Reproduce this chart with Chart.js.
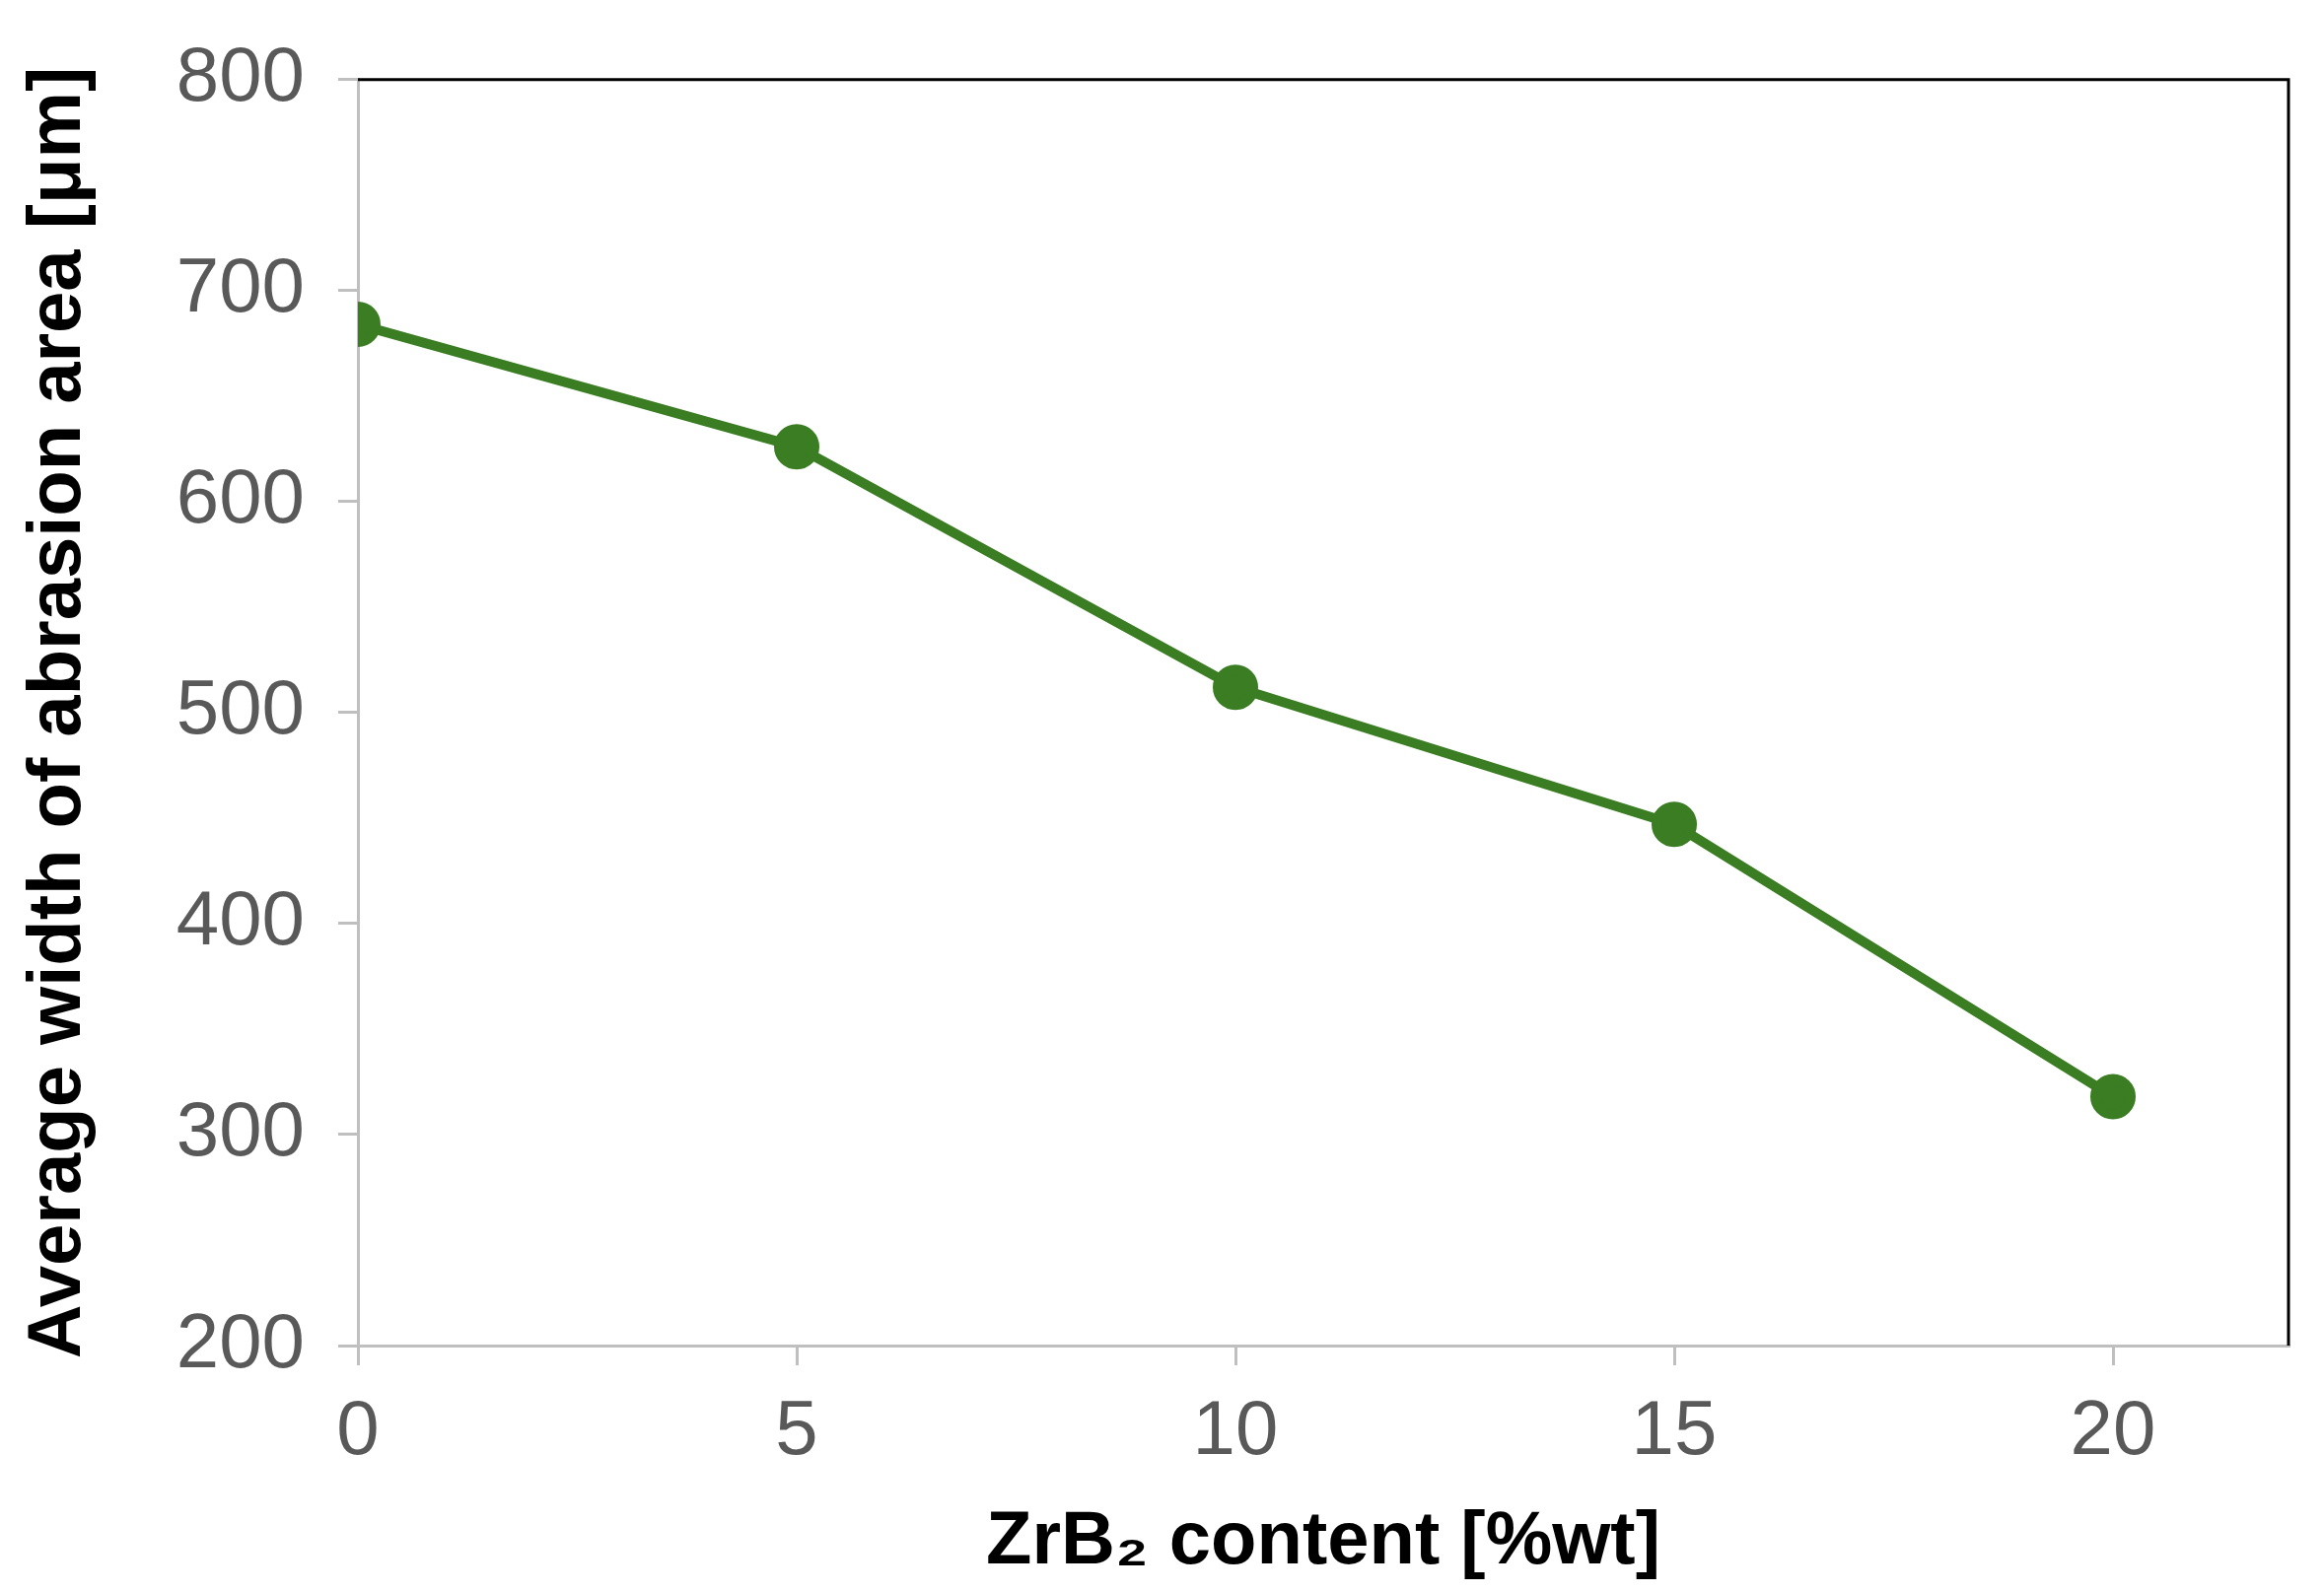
<!DOCTYPE html>
<html><head><meta charset="utf-8">
<script src="https://cdn.jsdelivr.net/npm/chart.js@4"></script>
<style>html,body{margin:0;padding:0;background:#fff}#w{width:2357px;height:1615px}</style>
</head><body><div id="w"><canvas id="c"></canvas></div>
<script>
const xValues = [0, 5, 10, 15, 20];
const widthValues = [684, 626, 512, 447, 318];
const xTitle = 'ZrB\u2082 content [%wt]';
const yTitle = 'Average width of abrasion area [\u03bcm]';

const frame = {
  id: 'frame',
  afterDraw(ch) {
    const a = ch.chartArea, c = ch.ctx;
    c.save();
    c.strokeStyle = '#000'; c.lineWidth = 3;
    c.beginPath(); c.moveTo(a.left, a.top); c.lineTo(a.right, a.top); c.lineTo(a.right, a.bottom); c.stroke();
    c.restore();
  }
};
const tickFont = {family: 'Liberation Sans, Arial', size: 78};
const titleFont = {family: 'Liberation Sans, Arial', size: 76, weight: 'bold'};
new Chart(document.getElementById('c'), {
  type: 'line',
  data: { datasets: [{
    data: xValues.map((x, i) => ({x, y: widthValues[i]})),
    borderColor: '#3a7d22', backgroundColor: '#3a7d22',
    borderWidth: 10, pointRadius: 18, pointHoverRadius: 18, tension: 0
  }]},
  options: {
    responsive: true, maintainAspectRatio: false, animation: false,
    layout: {padding: {top: 44, right: 36, left: 10, bottom: 0}},
    plugins: {legend: {display: false}, tooltip: {enabled: false}},
    scales: {
      x: {
        type: 'linear', min: 0, max: 22,
        afterBuildTicks: s => { s.ticks = xValues.map(v => ({value: v})); },
        afterFit: s => { s.height = 250; },
        grid: {drawOnChartArea: false, tickLength: 20, color: '#bfbfbf', lineWidth: 3},
        border: {color: '#bfbfbf', width: 3},
        ticks: {color: '#595959', font: tickFont, padding: 22},
        title: {display: true, text: xTitle, color: '#000', font: titleFont, padding: {top: 0}}
      },
      y: {
        min: 200, max: 800,
        ticks: {stepSize: 100, color: '#595959', font: tickFont, padding: 34},
        afterFit: s => { s.width = 353; },
        grid: {drawOnChartArea: false, tickLength: 20, color: '#bfbfbf', lineWidth: 3},
        border: {color: '#bfbfbf', width: 3},
        title: {display: true, text: yTitle, color: '#000', font: titleFont, padding: {bottom: 0}}
      }
    }
  },
  plugins: [frame]
});
</script></body></html>
